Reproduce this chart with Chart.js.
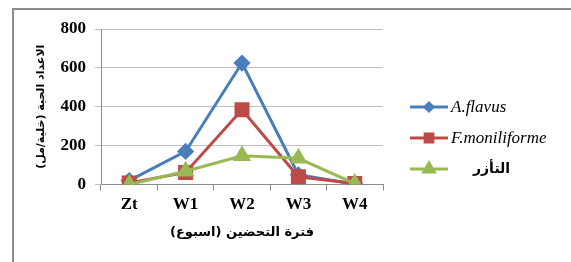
<!DOCTYPE html>
<html><head><meta charset="utf-8">
<script src="https://cdn.jsdelivr.net/npm/chart.js@4"></script>
<style>
html,body{margin:0;padding:0;background:#fff;}
#wrap{position:relative;width:571px;height:262px;}
#frame{position:absolute;left:12px;top:8px;width:559px;height:254px;border-top:2px solid #8c8c8c;border-left:2px solid #8c8c8c;box-sizing:border-box;}
canvas{position:absolute;left:0;top:0;}
</style></head>
<body><div id="wrap"><div id="frame"></div><canvas id="c" width="571" height="262"></canvas></div>
<script>
const categories = ['Zt','W1','W2','W3','W4'];
const seriesNames = ['A.flavus','F.moniliforme','التأزر'];
const aflavus = [20, 170, 625, 50, 2];
const fmoniliforme = [8, 62, 385, 40, 5];
const synergy = [0, 68, 148, 135, 5];
const yTicks = [0, 200, 400, 600, 800];
const yTitle = 'الاعداد الحية (خلية/مل)';
const xTitle = 'فترة التحضين (اسبوع)';

const colors = ['#4a7ebb','#be4b48','#98b954'];
const styles = ['rectRot','rect','triangle'];
const radii = [6.5, 8.5, 7.5];

const legendPlugin = {
  id: 'customLegend',
  afterDraw(chart) {
    const ctx = chart.ctx;
    const rows = [107, 138, 169];
    chart.data.datasets.forEach((ds, i) => {
      const y = rows[i];
      ctx.save();
      ctx.strokeStyle = ds.borderColor;
      ctx.lineWidth = 3;
      ctx.beginPath(); ctx.moveTo(410, y); ctx.lineTo(448, y); ctx.stroke();
      ctx.fillStyle = ds.borderColor;
      ctx.strokeStyle = ds.borderColor;
      Chart.helpers.drawPoint(ctx, {pointStyle: ds.pointStyle, radius: [4, 5.5, 6][i], borderWidth: 1}, 429, y);
      ctx.fillStyle = '#000';
      ctx.textBaseline = 'middle';
      if (i < 2) {
        ctx.font = 'italic 17px "Liberation Serif", serif';
        ctx.fillText(ds.label, 451, y + 1);
      } else {
        ctx.font = 'bold 14px "DejaVu Sans", sans-serif';
        ctx.fillText(ds.label, 473, y);
      }
      ctx.restore();
    });
  }
};

const mk = (i, data) => ({
  label: seriesNames[i], data,
  borderColor: colors[i], backgroundColor: colors[i],
  pointBackgroundColor: colors[i], pointBorderColor: colors[i],
  pointStyle: styles[i], pointRadius: radii[i], pointHoverRadius: radii[i],
  borderWidth: 3, tension: 0, order: 3 - i
});

new Chart(document.getElementById('c'), {
  type: 'line',
  data: { labels: categories, datasets: [mk(0, aflavus), mk(1, fmoniliforme), mk(2, synergy)] },
  options: {
    responsive: false, animation: false, devicePixelRatio: 1,
    layout: { padding: { left: 0, top: 29, right: 188, bottom: 0 } },
    plugins: { legend: { display: false }, tooltip: { enabled: false } },
    scales: {
      x: {
        offset: true,
        grid: { offset: true, drawOnChartArea: false, tickLength: 6, color: '#8c8c8c' },
        border: { color: '#8c8c8c', width: 1 },
        ticks: { color: '#000', padding: 4, font: { family: '"Liberation Serif", serif', size: 17, weight: 'bold' } },
        title: { display: true, text: xTitle, color: '#000', padding: { top: 0, bottom: 22 }, font: { family: '"DejaVu Sans", sans-serif', size: 13, weight: 'bold' } },
        afterFit(s) { s.height = 77.5; }
      },
      y: {
        min: 0, max: 800,
        afterBuildTicks(s) { s.ticks = yTicks.map(v => ({ value: v })); },
        grid: { color: '#bfbfbf', tickLength: 6 },
        border: { color: '#8c8c8c', width: 1 },
        ticks: { color: '#000', padding: 9, font: { family: '"Liberation Serif", serif', size: 17, weight: 'bold' } },
        title: { display: true, text: yTitle, color: '#000', padding: { top: 35, bottom: 0 }, font: { family: '"DejaVu Sans", sans-serif', size: 11, weight: 'bold' } },
        afterFit(s) { s.width = 101; }
      }
    }
  },
  plugins: [legendPlugin]
});
</script></body></html>
